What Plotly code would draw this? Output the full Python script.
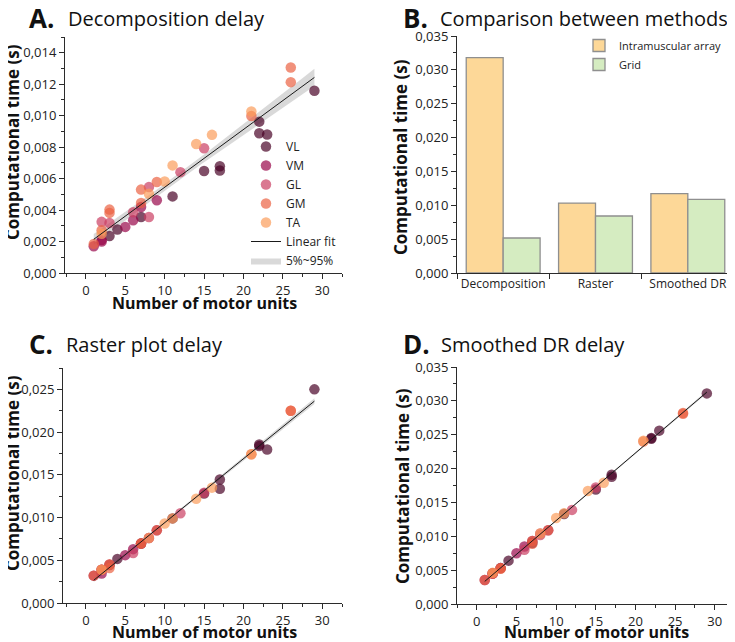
import numpy as np
import plotly.graph_objects as go

W, H = 735, 642
OX, OY = 8, 8  # page offset of the plot div (default body margin)
FONT = "Open Sans"

# ---------------- data (seconds) ----------------
muscles = ["VL", "VM", "GL", "GM", "TA"]
muscle_colors = ["rgba(71,0,36,0.69)", "rgba(150,3,71,0.69)", "rgba(202,59,96,0.69)",
                 "rgba(235,96,64,0.69)", "rgba(251,155,88,0.69)"]

vl_units = [3, 4, 7, 11, 15, 17, 17, 22, 22, 23, 29]
vl_decomp = [0.00235, 0.00276, 0.00356, 0.00487, 0.00648, 0.00679, 0.00652, 0.00962, 0.00888, 0.00880, 0.01158]
vl_raster = [0.00445, 0.00516, 0.00695, 0.00990, 0.01280, 0.01445, 0.01336, 0.01855, 0.01836, 0.01797, 0.02500]
vl_smooth = [0.00530, 0.00640, 0.00900, 0.01330, 0.01690, 0.01910, 0.01880, 0.02450, 0.02440, 0.02560, 0.03110]

vm_units = [1, 2, 2, 5, 6, 7, 9]
vm_decomp = [0.00170, 0.00209, 0.00200, 0.00293, 0.00335, 0.00420, 0.00462]
vm_raster = [0.00320, 0.00344, 0.00390, 0.00560, 0.00630, 0.00695, 0.00850]
vm_smooth = [0.00355, 0.00450, 0.00455, 0.00750, 0.00850, 0.00930, 0.01090]

gl_units = [2, 3, 6, 8, 8, 12, 15]
gl_decomp = [0.00325, 0.00318, 0.00386, 0.00546, 0.00356, 0.00641, 0.00793]
gl_raster = [0.00390, 0.00450, 0.00586, 0.00760, 0.00760, 0.01050, 0.01290]
gl_smooth = [0.00450, 0.00530, 0.00800, 0.01040, 0.01020, 0.01390, 0.01720]

gm_units = [1, 2, 3, 3, 7, 7, 9, 21, 26, 26]
gm_decomp = [0.00185, 0.00272, 0.00403, 0.00382, 0.00530, 0.00445, 0.00578, 0.00998, 0.01306, 0.01213]
gm_raster = [0.00320, 0.00390, 0.00450, 0.00410, 0.00695, 0.00695, 0.00850, 0.01740, 0.02250, 0.02250]
gm_smooth = [0.00355, 0.00450, 0.00527, 0.00520, 0.00930, 0.00890, 0.01090, 0.02400, 0.02810, 0.02820]

ta_units = [2, 8, 10, 11, 14, 16, 21]
ta_decomp = [0.00250, 0.00504, 0.00582, 0.00684, 0.00820, 0.00878, 0.01027]
ta_raster = [0.00390, 0.00760, 0.00930, 0.00990, 0.01220, 0.01350, 0.01740]
ta_smooth = [0.00460, 0.01040, 0.01270, 0.01340, 0.01670, 0.01790, 0.02410]

units = [vl_units, vm_units, gl_units, gm_units, ta_units]
decomp = [vl_decomp, vm_decomp, gl_decomp, gm_decomp, ta_decomp]
raster = [vl_raster, vm_raster, gl_raster, gm_raster, ta_raster]
smooth = [vl_smooth, vm_smooth, gl_smooth, gm_smooth, ta_smooth]

methods = ["Decomposition", "Raster", "Smoothed DR"]
intramuscular_times = [0.03180, 0.01033, 0.01171]
grid_times = [0.00517, 0.00842, 0.01088]

# ---------------- figure ----------------
fig = go.Figure()
T90 = 1.69  # two-sided 90% t quantile


def fx(px):
    return (px - OX) / W


def fy(py):
    return 1 - (py - OY) / H


def add_fit(xs_list, ys_list, xa, ya, show):
    x = np.concatenate([np.asarray(v, float) for v in xs_list])
    y = np.concatenate([np.asarray(v, float) for v in ys_list])
    b, a = np.polyfit(x, y, 1)
    xx = np.linspace(x.min(), x.max(), 60)
    yy = a + b * xx
    n = len(x)
    s = np.sqrt(np.sum((y - (a + b * x)) ** 2) / (n - 2))
    se = s * np.sqrt(1 / n + (xx - x.mean()) ** 2 / np.sum((x - x.mean()) ** 2))
    up, lo = yy + T90 * se, yy - T90 * se
    fig.add_trace(go.Scatter(x=np.concatenate([xx, xx[::-1]]), y=np.concatenate([up, lo[::-1]]),
                             fill="toself", fillcolor="rgba(170,170,170,0.45)", line=dict(width=0),
                             mode="lines", name="5%~95%", showlegend=show, legendrank=7,
                             xaxis=xa, yaxis=ya, hoverinfo="skip"))
    return xx, yy


def add_panel(data, xa, ya, show):
    xx, yy = add_fit(units, data, xa, ya, show)
    for i, m in enumerate(muscles):
        fig.add_trace(go.Scatter(x=units[i], y=data[i], mode="markers", name=m,
                                 marker=dict(size=10.5, color=muscle_colors[i], line=dict(width=0)),
                                 showlegend=show, legendrank=i + 1, xaxis=xa, yaxis=ya))
    fig.add_trace(go.Scatter(x=xx, y=yy, mode="lines", line=dict(color="#1a1a1a", width=1),
                             name="Linear fit", showlegend=show, legendrank=6, xaxis=xa, yaxis=ya))


add_panel(decomp, "x", "y", True)
add_panel(raster, "x3", "y3", False)
add_panel(smooth, "x4", "y4", False)

bar_line = dict(color="#8f8f8f", width=1.3)
fig.add_trace(go.Bar(x=methods, y=intramuscular_times, name="Intramuscular array",
                     marker=dict(color="#FDD898", line=bar_line), xaxis="x2", yaxis="y2", legend="legend2"))
fig.add_trace(go.Bar(x=methods, y=grid_times, name="Grid",
                     marker=dict(color="#D5ECC1", line=bar_line), xaxis="x2", yaxis="y2", legend="legend2"))

# ---------------- axes ----------------
AX = dict(showline=True, linecolor="#2b2b2b", linewidth=1, ticks="outside", ticklen=5, tickwidth=1,
          tickcolor="#2b2b2b", showgrid=False, zeroline=False, automargin=False,
          tickfont=dict(family=FONT, size=13, color="#222"))


def x_dom(a, b):
    return [fx(a), fx(b)]


def y_dom(top, bottom):
    return [fy(bottom), fy(top)]


xminor = dict(ticks="outside", ticklen=3, dtick=2.5, tickcolor="#2b2b2b")
fig.update_layout(
    xaxis=dict(AX, domain=x_dom(65, 342), range=[-2.65, 32.5], dtick=5, tick0=0, minor=xminor, anchor="y"),
    yaxis=dict(AX, domain=y_dom(37, 273), range=[0, 0.015], dtick=0.002, tick0=0, tickformat=".3f",
               minor=dict(ticks="outside", ticklen=3, dtick=0.001, tickcolor="#2b2b2b"), anchor="x"),
    xaxis2=dict(AX, domain=x_dom(457, 734), range=[-0.5, 2.5], type="category", tickson="boundaries",
                tickangle=0, tickfont=dict(family=FONT, size=12, color="#222"), anchor="y2"),
    yaxis2=dict(AX, domain=y_dom(36, 273), range=[0, 0.035], dtick=0.005, tick0=0, tickformat=".3f",
                minor=dict(ticks="outside", ticklen=3, dtick=0.0025, tickcolor="#2b2b2b"), anchor="x2"),
    xaxis3=dict(AX, domain=x_dom(63, 342), range=[-2.9, 32.5], dtick=5, tick0=0, minor=xminor, anchor="y3"),
    yaxis3=dict(AX, domain=y_dom(368, 603), range=[0, 0.0275], dtick=0.005, tick0=0, tickformat=".3f",
                minor=dict(ticks="outside", ticklen=3, dtick=0.0025, tickcolor="#2b2b2b"), anchor="x3"),
    xaxis4=dict(AX, domain=x_dom(457, 733), range=[-2.5, 32.3], dtick=5, tick0=0, minor=xminor, anchor="y4"),
    yaxis4=dict(AX, domain=y_dom(367, 604), range=[0, 0.035], dtick=0.005, tick0=0, tickformat=".3f",
                minor=dict(ticks="outside", ticklen=3, dtick=0.0025, tickcolor="#2b2b2b"), anchor="x4"),
)

fig.update_layout(
    width=W, height=H, margin=dict(l=0, r=0, t=0, b=0, pad=0, autoexpand=False), separators=",.",
    paper_bgcolor="white", plot_bgcolor="white",
    font=dict(family=FONT, color="#111"),
    barmode="group", bargap=0.2, bargroupgap=0,
    legend=dict(x=fx(246), y=fy(132), xanchor="left", yanchor="top", bgcolor="rgba(0,0,0,0)",
                font=dict(family=FONT, size=12, color="#222"), traceorder="normal"),
    legend2=dict(x=fx(579), y=fy(31), xanchor="left", yanchor="top", bgcolor="rgba(0,0,0,0)",
                 font=dict(family=FONT, size=11, color="#222")),
)

# ---------------- text ----------------
def title(lx, tx, py, letter, text):
    fig.add_annotation(x=fx(lx), y=fy(py + 1.5), xref="paper", yref="paper", xanchor="left", yanchor="middle",
                       showarrow=False, text=f"<b>{letter}</b>",
                       font=dict(family=FONT, size=26, color="#111"))
    fig.add_annotation(x=fx(tx), y=fy(py + 2.5), xref="paper", yref="paper", xanchor="left",
                       yanchor="middle", showarrow=False, text=text,
                       font=dict(family=FONT, size=20, color="#111"))


title(27, 66, 16, "A.", "Decomposition delay")
title(401, 438, 16, "B.", "Comparison between methods")
title(27, 64, 342, "C.", "Raster plot delay")
title(401, 439, 342, "D.", "Smoothed DR delay")

YT = "Computational time (s)"
XT = "Number of motor units"
for px, py in [(12, 142), (401, 157), (12, 473), (402, 486)]:
    fig.add_annotation(x=fx(px), y=fy(py), xref="paper", yref="paper", textangle=-90, showarrow=False,
                       xanchor="center", yanchor="middle",
                       text=f"<b>{YT}</b>", font=dict(family=FONT, size=17, color="#111"))
for px, py in [(204, 303), (204, 632), (596, 632)]:
    fig.add_annotation(x=fx(px), y=fy(py), xref="paper", yref="paper", showarrow=False,
                       xanchor="center", yanchor="middle",
                       text=f"<b>{XT}</b>", font=dict(family=FONT, size=16, color="#111"))

fig.write_html("out.html")
